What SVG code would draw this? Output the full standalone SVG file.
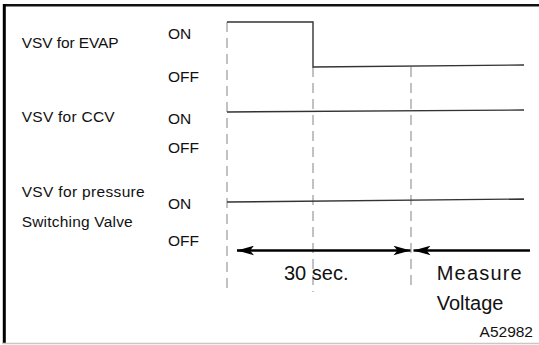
<svg xmlns="http://www.w3.org/2000/svg" width="539" height="345" viewBox="0 0 539 345">
<style>
.lbl{font-family:"Liberation Sans",Arial,sans-serif;font-size:15.5px;fill:#111}
.big{font-family:"Liberation Sans",Arial,sans-serif;font-size:20px;fill:#111}
.dash{stroke:#9a9a9a;stroke-width:1.2;stroke-dasharray:10,6;fill:none}
.sig{stroke:#333;stroke-width:1.4;fill:none}
.arr{stroke:#000;stroke-width:2.6;fill:none}
</style>
<defs>
<marker id="ah" markerUnits="userSpaceOnUse" viewBox="-18 -5 19 10" refX="0" refY="0" markerWidth="19" markerHeight="10" orient="auto">
<path d="M0,0 L-17,-4.8 L-13,0 L-17,4.8 Z" fill="#000"/>
</marker>
</defs>
<g id="frame">
<line x1="3" y1="5.3" x2="539" y2="5.3" stroke="#111" stroke-width="2.6"/>
<line x1="4.3" y1="4" x2="4.3" y2="344" stroke="#000" stroke-width="3"/>
<line x1="3" y1="343.5" x2="539" y2="343.5" stroke="#c8c8c8" stroke-width="1.5"/>
</g>
<g id="labels">
<text class="lbl" x="21.7" y="48" textLength="97">VSV for EVAP</text>
<text class="lbl" x="168" y="39">ON</text>
<text class="lbl" x="168" y="82">OFF</text>
<text class="lbl" x="21.7" y="122" textLength="93">VSV for CCV</text>
<text class="lbl" x="168" y="124">ON</text>
<text class="lbl" x="168" y="153">OFF</text>
<text class="lbl" x="21.7" y="197" textLength="123">VSV for pressure</text>
<text class="lbl" x="21.7" y="226.5" textLength="111">Switching Valve</text>
<text class="lbl" x="168" y="209">ON</text>
<text class="lbl" x="168" y="246">OFF</text>
</g>
<g id="guides">
<line class="dash" x1="227" y1="22" x2="227" y2="292"/>
<line class="dash" x1="313" y1="67" x2="313" y2="292"/>
<line class="dash" x1="411" y1="67" x2="411" y2="290"/>
</g>
<g id="signals">
<path id="sig-evap" class="sig" d="M227,22 H313 V67 L524,65"/>
<path id="sig-ccv" class="sig" d="M227,112 L524,110"/>
<path id="sig-pressure" class="sig" d="M227,202 L524,199"/>
</g>
<g id="connectors">
<line class="arr" x1="250" y1="250.5" x2="237" y2="250.5" marker-end="url(#ah)"/>
<line class="arr" x1="250" y1="250.5" x2="410.5" y2="250.5" marker-end="url(#ah)"/>
<line class="arr" x1="530" y1="250.5" x2="413.5" y2="250.5" marker-end="url(#ah)"/>
</g>
<g id="period-labels">
<text class="big" x="284" y="280">30 sec.</text>
<text class="big" x="436.7" y="280" textLength="85">Measure</text>
<text class="big" x="436.7" y="310">Voltage</text>
<text class="lbl" x="533" y="337" text-anchor="end">A52982</text>
</g>
</svg>
